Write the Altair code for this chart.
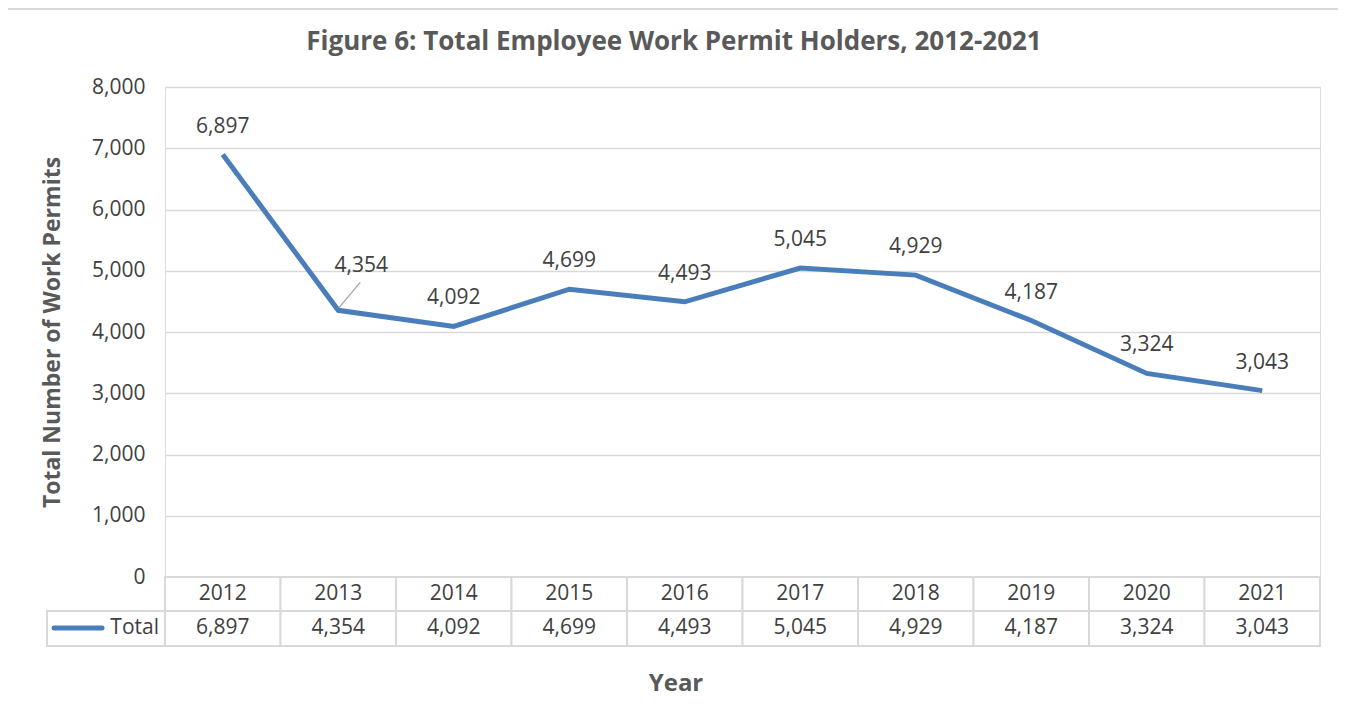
import altair as alt
import pandas as pd

years = [2012, 2013, 2014, 2015, 2016, 2017, 2018, 2019, 2020, 2021]
totals = [6897, 4354, 4092, 4699, 4493, 5045, 4929, 4187, 3324, 3043]
series_name = "Total"
title_text = "Figure 6: Total Employee Work Permit Holders, 2012-2021"
y_title = "Total Number of Work Permits"
x_title = "Year"
y_ticks = [0, 1000, 2000, 3000, 4000, 5000, 6000, 7000, 8000]

FONT = "Open Sans"
TXT = "#404040"
HEAD = "#595959"
GRID = "#d9d9d9"
LINE = "#4a7ebb"
FS = 21

W, H = 1155, 490

df = pd.DataFrame({"year": years, "total": totals})
one = pd.DataFrame({"title": [title_text], "xt": [x_title], "name": [series_name]})

xs = alt.Scale(domain=[-0.5, len(years) - 0.5], nice=False, zero=False)
ys = alt.Scale(domain=[0, 8000], nice=False)

base = alt.Chart(df).transform_calculate(
    idx="datum.year - 2012", lo="datum.year - 2012 - 0.5", hi="datum.year - 2012 + 0.5"
)

X = alt.X("idx:Q", scale=xs, axis=None)
Y = alt.Y("total:Q", scale=ys,
          axis=alt.Axis(title=y_title, values=y_ticks,
                        labelExpr="format(datum.value, ',')",
                        domain=False, ticks=False, grid=True, gridColor=GRID, gridWidth=1.3,
                        labelFont=FONT, labelFontSize=FS, labelColor=TXT, labelPadding=20,
                        titleFont=FONT, titleFontSize=23, titleFontWeight="bold",
                        titleColor=HEAD, titleX=-113, titleY=245, titleAngle=-90,
                        titleBaseline="middle", titleAlign="center"))

border = alt.Chart(one).mark_rect(fill=None, stroke=GRID, strokeWidth=2).encode(
    x=alt.value(-161), x2=alt.value(1300), y=alt.value(-78), y2=alt.value(800))

line = base.mark_line(color=LINE, strokeWidth=5).encode(x=X, y=Y)

labels = base.transform_filter("datum.year != 2013").mark_text(
    font=FONT, fontSize=FS, color=TXT, dy=-28, baseline="middle"
).encode(x=X, y=Y, text=alt.Text("total:Q", format=","))

label13 = base.transform_filter("datum.year == 2013").mark_text(
    font=FONT, fontSize=FS, color=TXT, dx=23, dy=-44, baseline="middle"
).encode(x=X, y=Y, text=alt.Text("total:Q", format=","))

leader = base.transform_filter("datum.year == 2013").mark_rule(
    color="#a6a6a6", strokeWidth=1.3, xOffset=1, yOffset=-3, x2Offset=22, y2Offset=-28
).encode(x=X, x2="idx:Q", y=Y, y2="total:Q")

head_cells = base.mark_rect(fill="white", stroke=GRID, strokeWidth=2).encode(
    x=alt.X("lo:Q", scale=xs, axis=None), x2="hi:Q", y=alt.value(H), y2=alt.value(H + 34))
data_cells = base.mark_rect(fill="white", stroke=GRID, strokeWidth=2).encode(
    x=alt.X("lo:Q", scale=xs, axis=None), x2="hi:Q", y=alt.value(H + 34), y2=alt.value(H + 69))
head_text = base.mark_text(font=FONT, fontSize=FS, color=TXT, baseline="middle").encode(
    x=X, y=alt.value(H + 17), text=alt.Text("year:N"))
data_text = base.mark_text(font=FONT, fontSize=FS, color=TXT, baseline="middle").encode(
    x=X, y=alt.value(H + 51), text=alt.Text("total:Q", format=","))

leg_cell = alt.Chart(one).mark_rect(fill="white", stroke=GRID, strokeWidth=2).encode(
    x=alt.value(-118), x2=alt.value(0), y=alt.value(H + 34), y2=alt.value(H + 69))
leg_line = alt.Chart(one).mark_rule(color=LINE, strokeWidth=5, strokeCap="round").encode(
    x=alt.value(-111), x2=alt.value(-63), y=alt.value(H + 51))
leg_text = alt.Chart(one).mark_text(font=FONT, fontSize=FS, color=TXT, align="right",
                                     baseline="middle").encode(
    x=alt.value(-6), y=alt.value(H + 51), text="name:N")

title = alt.Chart(one).mark_text(font=FONT, fontSize=26, fontWeight="bold", color=HEAD,
                                  baseline="middle").encode(
    x=alt.value(509), y=alt.value(-45), text="title:N")
xtitle = alt.Chart(one).mark_text(font=FONT, fontSize=24, fontWeight="bold", color=HEAD,
                                   baseline="middle").encode(
    x=alt.value(511), y=alt.value(597), text="xt:N")

chart = alt.layer(
    border, head_cells, data_cells, head_text, data_text,
    leg_cell, leg_line, leg_text, leader, line, labels, label13, title, xtitle
).properties(
    width=W, height=H,
    autosize=alt.AutoSizeParams(type="none"),
    padding={"left": 157, "top": 79, "right": 18, "bottom": 123},
).configure_view(strokeWidth=0, stroke="transparent").configure(background="white")

chart.save("out.html", embed_options={"renderer": "svg", "actions": False})
